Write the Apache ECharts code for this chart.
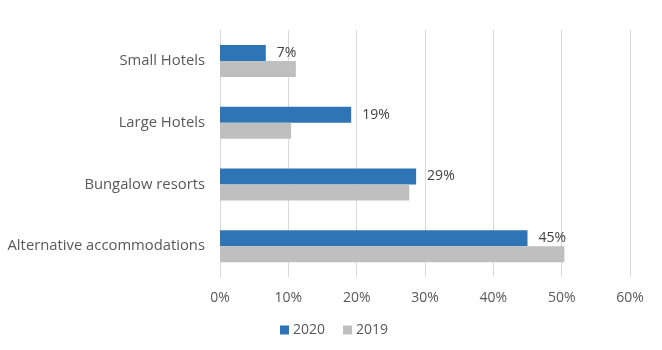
<!DOCTYPE html>
<html>
<head>
<meta charset="utf-8">
<script src="https://cdn.jsdelivr.net/npm/echarts@6/dist/echarts.min.js"></script>
<style>
  html, body { margin: 0; padding: 0; background: #ffffff; }
  #chart { width: 662px; height: 350px; }
</style>
</head>
<body>
<div id="chart"></div>
<script>
// Share by accommodation type, 2020 vs 2019
const categories = ["Small Hotels", "Large Hotels", "Bungalow resorts", "Alternative accommodations"];
const values2020 = [6.7, 19.2, 28.7, 45.0];
const values2019 = [11.1, 10.4, 27.7, 50.4];
const labels2020 = ["7%", "19%", "29%", "45%"];
const xTicks = [0, 10, 20, 30, 40, 50, 60];

const fontFamily = "'Open Sans', sans-serif";
const chart = echarts.init(document.getElementById("chart"), null, { renderer: "canvas" });

chart.setOption({
  animation: false,
  backgroundColor: "#ffffff",
  textStyle: { fontFamily: fontFamily },
  grid: {
    left: 220,
    right: 32,
    top: 30,
    bottom: 73,
    containLabel: false
  },
  legend: {
    bottom: 8,
    left: 275,
    itemWidth: 9,
    itemHeight: 9,
    itemGap: 18,
    icon: "rect",
    textStyle: { color: "#595959", fontSize: 14, fontFamily: fontFamily, padding: [0, 0, 0, -1] },
    data: ["2020", "2019"]
  },
  xAxis: {
    type: "value",
    min: xTicks[0],
    max: xTicks[xTicks.length - 1],
    interval: 10,
    axisLine: { show: false },
    axisTick: { show: false },
    axisLabel: {
      color: "#595959",
      fontSize: 14,
      margin: 14,
      formatter: (v) => v + "%"
    },
    splitLine: { lineStyle: { color: "#D9D9D9", width: 1 } }
  },
  yAxis: {
    type: "category",
    inverse: true,
    data: categories,
    axisLine: { show: true, lineStyle: { color: "#D9D9D9" } },
    axisTick: { show: false },
    axisLabel: { color: "#595959", fontSize: 14.8, margin: 15 }
  },
  series: [
    {
      name: "2020",
      type: "bar",
      data: values2020,
      barWidth: 16,
      barGap: "0%",
      itemStyle: { color: "#2E75B6" },
      label: {
        show: true,
        position: "right",
        distance: 11,
        color: "#404040",
        fontSize: 14,
        fontFamily: fontFamily,
        formatter: (p) => labels2020[p.dataIndex]
      }
    },
    {
      name: "2019",
      type: "bar",
      data: values2019,
      barWidth: 16,
      barGap: "0%",
      itemStyle: { color: "#BFBFBF" }
    }
  ]
});
</script>
</body>
</html>
